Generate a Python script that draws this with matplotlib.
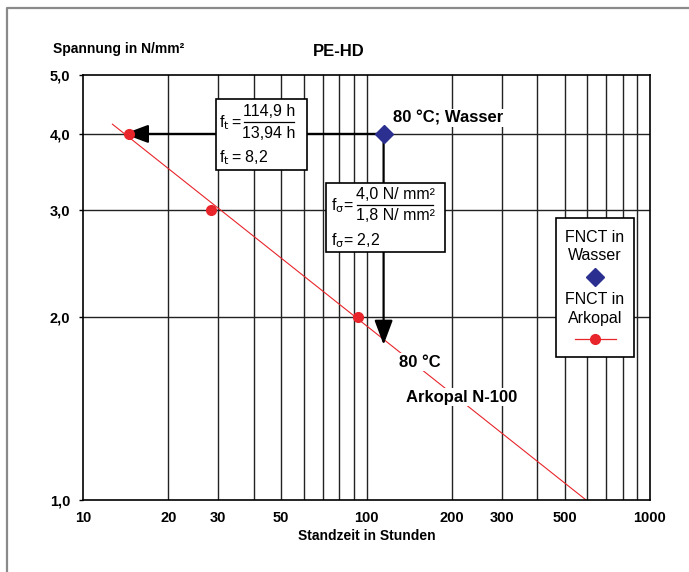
import matplotlib
matplotlib.use("Agg")
import matplotlib.pyplot as plt
from matplotlib.patches import Rectangle
from matplotlib.lines import Line2D
from matplotlib.ticker import FixedLocator, FixedFormatter, NullLocator

# FNCT in Arkopal N-100, 80 °C
arkopal_hours = [14.5, 28.3, 93.0]
arkopal_stress = [4.0, 3.0, 2.0]
fit_hours = [12.7, 595.0]
fit_stress = [4.15, 1.0]

# FNCT in Wasser, 80 °C
wasser_hours = [114.9]
wasser_stress = [4.0]

# shift targets (f_t and f_sigma)
shift_hours = 13.94
shift_stress = 1.8

x_ticks = [10, 20, 30, 50, 100, 200, 300, 500, 1000]
x_labels = ["10", "20", "30", "50", "100", "200", "300", "500", "1000"]
x_grid = [20, 30, 40, 50, 60, 70, 80, 90, 100, 200, 300, 400, 500, 600, 700, 800, 900]
y_ticks = [1, 2, 3, 4, 5]
y_labels = ["1,0", "2,0", "3,0", "4,0", "5,0"]
y_grid = [2, 3, 4]

RED = "#e8252b"
BLUE = "#2b2f8f"
W, H = 689, 572

plt.rcParams["font.family"] = ["Liberation Sans", "DejaVu Sans"]
plt.rcParams["mathtext.fontset"] = "custom"
plt.rcParams["mathtext.rm"] = "Liberation Sans Narrow"
plt.rcParams["mathtext.it"] = "Liberation Sans Narrow"

fig = plt.figure(figsize=(W / 100, H / 100), dpi=100)
ax = fig.add_axes([83 / W, 1 - 500 / H, 567 / W, 425 / H])


def fp(x, y):
    # pixel position (from top-left) -> figure fraction
    return (x / W, 1 - y / H)


ax.set_xscale("log")
ax.set_yscale("log")
ax.set_xlim(10, 1000)
ax.set_ylim(1, 5)

ax.xaxis.set_major_locator(FixedLocator(x_ticks))
ax.xaxis.set_major_formatter(FixedFormatter(x_labels))
ax.xaxis.set_minor_locator(NullLocator())
ax.yaxis.set_major_locator(FixedLocator(y_ticks))
ax.yaxis.set_major_formatter(FixedFormatter(y_labels))
ax.yaxis.set_minor_locator(NullLocator())
ax.tick_params(labelsize=10.5)
ax.tick_params(axis="x", length=0, pad=8)
ax.tick_params(axis="y", length=3, width=1, direction="out", pad=6)
for lab in ax.get_xticklabels() + ax.get_yticklabels():
    lab.set_fontweight("bold")
for sp in ax.spines.values():
    sp.set_linewidth(1.2)

for xg in x_grid:
    ax.axvline(xg, color="#222222", lw=1.0, zorder=1)
for yg in y_grid:
    ax.axhline(yg, color="#222222", lw=1.0, zorder=1)

# fit line and measured points
ax.plot(fit_hours, fit_stress, color=RED, lw=0.8, zorder=2)
ax.plot(arkopal_hours, arkopal_stress, "o", color=RED, ms=7, zorder=5)

# shift arrows
arrow = dict(arrowstyle="-|>,head_length=0.75,head_width=0.28", color="black",
             lw=1.6, mutation_scale=20, shrinkA=0, shrinkB=0)
ax.annotate("", xy=(shift_hours, wasser_stress[0]),
            xytext=(wasser_hours[0], wasser_stress[0]), arrowprops=arrow, zorder=3)
ax.annotate("", xy=(wasser_hours[0], shift_stress),
            xytext=(wasser_hours[0], wasser_stress[0]), arrowprops=arrow, zorder=3)
ax.plot(wasser_hours, wasser_stress, "D", color=BLUE, ms=9, zorder=6)

bold = dict(fontsize=12, fontweight="bold", va="center", ha="left",
            bbox=dict(facecolor="white", edgecolor="none", pad=1), zorder=4)
ax.text(124, 4.25, "80 °C; Wasser", **bold)
ax.text(130, 1.686, "80 °C", **bold)
ax.text(137.7, 1.477, "Arkopal N-100", **bold)

# titles
fig.text(*fp(339, 51), "PE-HD", fontsize=12, fontweight="bold", ha="center", va="center")
fig.text(*fp(53, 49), "Spannung in N/mm²", fontsize=10, fontweight="bold", ha="left", va="center")
fig.text(*fp(367, 536), "Standzeit in Stunden", fontsize=10, fontweight="bold", ha="center", va="center")


def box(x0, y0, x1, y1):
    fig.add_artist(Rectangle(fp(x0, y1), (x1 - x0) / W, (y1 - y0) / H,
                             transform=fig.transFigure, facecolor="white",
                             edgecolor="black", lw=1.2, zorder=4))


narrow = dict(fontsize=11.5, family=["Liberation Sans Narrow", "Liberation Sans"],
              va="center", zorder=5)

# f_t box
box(216, 99, 307, 170)
fig.text(*fp(219, 123), r"f$_\mathrm{t}\,$=", ha="left", **narrow)
fig.text(*fp(269, 112), "114,9 h", ha="center", **narrow)
fig.add_artist(Line2D([244 / W, 294 / W], [1 - 122 / H] * 2, color="black", lw=0.9, zorder=5))
fig.text(*fp(269, 133), "13,94 h", ha="center", **narrow)
fig.text(*fp(219, 158), r"f$_\mathrm{t}\,$= 8,2", ha="left", **narrow)

# f_sigma box
box(326, 183, 445, 252)
fig.text(*fp(331, 206), r"f$_\mathrm{σ}$=", ha="left", **narrow)
fig.text(*fp(395, 195), "4,0 N/ mm²", ha="center", **narrow)
fig.add_artist(Line2D([357 / W, 433 / W], [1 - 205 / H] * 2, color="black", lw=0.9, zorder=5))
fig.text(*fp(395, 216), "1,8 N/ mm²", ha="center", **narrow)
fig.text(*fp(331, 241), r"f$_\mathrm{σ}$= 2,2", ha="left", **narrow)

# legend
box(556, 218, 634, 357)
leg = dict(fontsize=11.5, ha="center", va="center", zorder=5)
fig.text(*fp(595, 237), "FNCT in", **leg)
fig.text(*fp(595, 256), "Wasser", **leg)
fig.add_artist(Line2D([595 / W], [1 - 277 / H], marker="D", color=BLUE, ms=9, lw=0, zorder=5))
fig.text(*fp(595, 300), "FNCT in", **leg)
fig.text(*fp(595, 319), "Arkopal", **leg)
fig.add_artist(Line2D([575 / W, 616 / W], [1 - 339 / H] * 2, color=RED, lw=0.9, zorder=5))
fig.add_artist(Line2D([595 / W], [1 - 339 / H], marker="o", color=RED, ms=7, lw=0, zorder=6))

# outer frame (left and top edges)
fig.add_artist(Line2D([7 / W, 7 / W, 1], [0, 1 - 8 / H, 1 - 8 / H],
                      color="#8a8a8a", lw=1.6, zorder=0))

fig.savefig("out.png", dpi=100)
